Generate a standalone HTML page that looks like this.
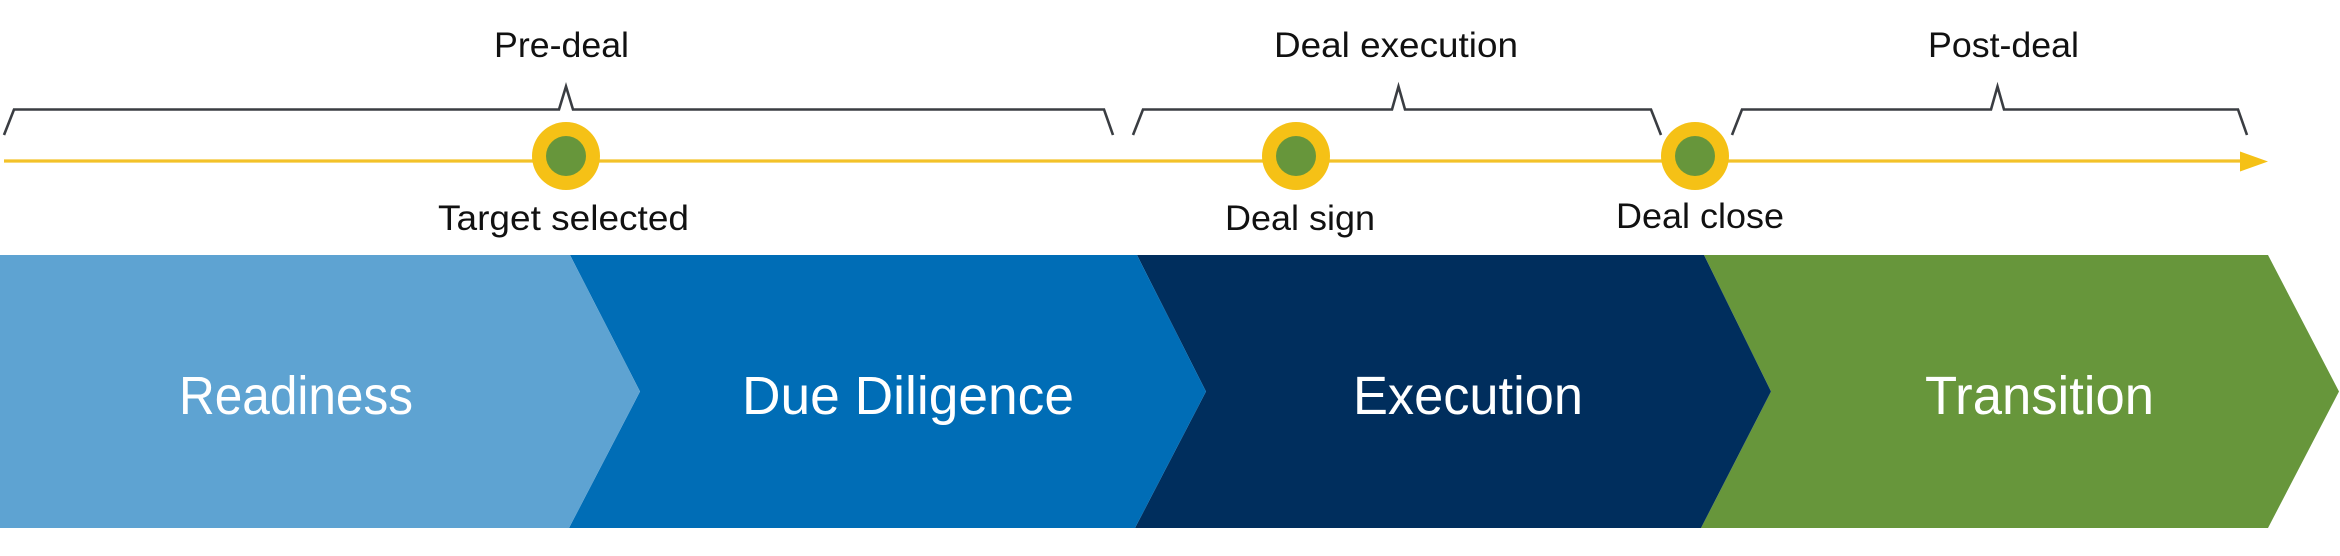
<!DOCTYPE html>
<html>
<head>
<meta charset="utf-8">
<style>
  html, body { margin: 0; padding: 0; background: #ffffff; }
  body { width: 2340px; height: 556px; overflow: hidden; }
  svg { display: block; }
  .lbl { font-family: "Liberation Sans", "DejaVu Sans", sans-serif; font-size: 35px; fill: #111111; }
  .big { font-family: "Liberation Sans", "DejaVu Sans", sans-serif; font-size: 54px; fill: #ffffff; }
</style>
</head>
<body>
<svg width="2340" height="556" viewBox="0 0 2340 556" xmlns="http://www.w3.org/2000/svg">
  <rect width="2340" height="556" fill="#ffffff"/>

  <!-- Brackets -->
  <g fill="none" stroke="#3a3d42" stroke-width="2.6" stroke-linejoin="miter">
    <polyline points="4,135 14,109.5 559,109.5 566,86.5 573,109.5 1104,109.5 1113,135"/>
    <polyline points="1133,135 1143,109.5 1392,109.5 1398.5,86.5 1405,109.5 1651,109.5 1661,135"/>
    <polyline points="1732,135 1742,109.5 1991,109.5 1997.5,86.5 2004,109.5 2238,109.5 2247,135"/>
  </g>

  <!-- Timeline -->
  <line x1="4" y1="161" x2="2244" y2="161" stroke="#f3c229" stroke-width="3.2"/>
  <polygon points="2240,151.5 2268,161.5 2240,171.5" fill="#f5c116"/>

  <!-- Milestones -->
  <circle cx="566" cy="156" r="34" fill="#f5c116"/>
  <circle cx="566" cy="156" r="20" fill="#67963b"/>
  <circle cx="1296" cy="156" r="34" fill="#f5c116"/>
  <circle cx="1296" cy="156" r="20" fill="#67963b"/>
  <circle cx="1695" cy="156" r="34" fill="#f5c116"/>
  <circle cx="1695" cy="156" r="20" fill="#67963b"/>

  <!-- Top labels -->
  <text class="lbl" x="494" y="57" textLength="135" lengthAdjust="spacingAndGlyphs">Pre-deal</text>
  <text class="lbl" x="1274" y="57" textLength="244" lengthAdjust="spacingAndGlyphs">Deal execution</text>
  <text class="lbl" x="1928" y="57" textLength="151" lengthAdjust="spacingAndGlyphs">Post-deal</text>

  <!-- Milestone labels -->
  <text class="lbl" x="438" y="230" textLength="251" lengthAdjust="spacingAndGlyphs">Target selected</text>
  <text class="lbl" x="1225" y="230" textLength="150" lengthAdjust="spacingAndGlyphs">Deal sign</text>
  <text class="lbl" x="1616" y="228" textLength="168" lengthAdjust="spacingAndGlyphs">Deal close</text>

  <!-- Chevrons -->
  <polygon points="2268,255 2339,391.5 2268,528 1701,528 1771,391.5 1704,255" fill="#67963b"/>
  <polygon points="1704,255 1771,391.5 1701,528 1135,528 1206,391.5 1137,255" fill="#002e5d"/>
  <polygon points="1137,255 1206,391.5 1135,528 569,528 640,391.5 570,255" fill="#006db6"/>
  <polygon points="0,255 570,255 640,391.5 569,528 0,528" fill="#5ea3d2"/>

  <!-- Chevron labels -->
  <text class="big" x="179" y="414" textLength="234" lengthAdjust="spacingAndGlyphs">Readiness</text>
  <text class="big" x="742" y="414" textLength="332" lengthAdjust="spacingAndGlyphs">Due Diligence</text>
  <text class="big" x="1353" y="414" textLength="230" lengthAdjust="spacingAndGlyphs">Execution</text>
  <text class="big" x="1925" y="414" textLength="229" lengthAdjust="spacingAndGlyphs">Transition</text>
</svg>
</body>
</html>
